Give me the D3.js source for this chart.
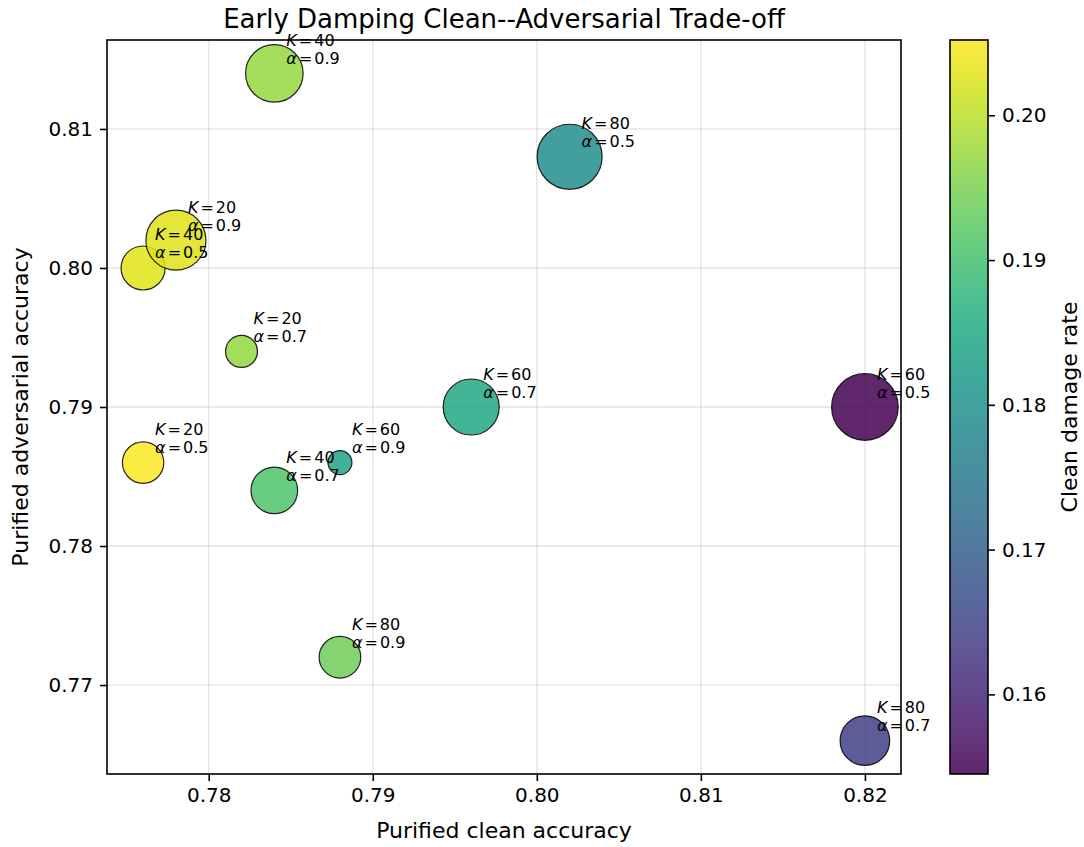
<!DOCTYPE html>
<html>
<head>
<meta charset="utf-8">
<script src="https://cdn.jsdelivr.net/npm/d3@7"></script>
<style>
  html, body { margin: 0; padding: 0; background: #fff; }
  svg { display: block; font-family: "DejaVu Sans", sans-serif; }
</style>
</head>
<body>
<svg id="chart" width="1084" height="847"></svg>
<script>
// Damping configurations (ordered by alpha, then K)
const kValues     = [20, 40, 60, 80, 20, 40, 60, 80, 20, 40, 60, 80];
const alphaValues = ["0.5", "0.5", "0.5", "0.5", "0.7", "0.7", "0.7", "0.7", "0.9", "0.9", "0.9", "0.9"];
const cleanAcc    = [0.776, 0.776, 0.820, 0.802, 0.782, 0.784, 0.796, 0.820, 0.778, 0.784, 0.788, 0.788];
const advAcc      = [0.786, 0.800, 0.790, 0.808, 0.794, 0.784, 0.790, 0.766, 0.802, 0.814, 0.786, 0.772];
const damageRate  = [0.2052, 0.2030, 0.1545, 0.1793, 0.1970, 0.1910, 0.1849, 0.1641, 0.2027, 0.1971, 0.1840, 0.1941];
// marker areas in pt^2
const markerArea  = [336, 380, 871, 830, 201, 426, 616, 483, 707, 651, 113, 340];

const xTicks    = [0.78, 0.79, 0.80, 0.81, 0.82];
const yTicks    = [0.77, 0.78, 0.79, 0.80, 0.81];
const cbarTicks = [0.16, 0.17, 0.18, 0.19, 0.20];

const titleText  = "Early Damping Clean--Adversarial Trade-off";
const xLabelText = "Purified clean accuracy";
const yLabelText = "Purified adversarial accuracy";
const cLabelText = "Clean damage rate";

const data = kValues.map((k, i) => ({
  k, alpha: alphaValues[i], x: cleanAcc[i], y: advAcc[i], c: damageRate[i], s: markerArea[i]
}));

const svg = d3.select("#chart");
const plot = { left: 107, right: 901, top: 40, bottom: 774 };
const cbar = { left: 950, right: 988, top: 40, bottom: 774 };
const FILL_ALPHA = 0.85;

function padded(ext, m) {
  const span = ext[1] - ext[0];
  return [ext[0] - span * m, ext[1] + span * m];
}

const x = d3.scaleLinear().domain(padded(d3.extent(cleanAcc), 0.05)).range([plot.left, plot.right]);
const y = d3.scaleLinear().domain(padded(d3.extent(advAcc), 0.05)).range([plot.bottom, plot.top]);
const cDomain = d3.extent(damageRate);
const color = d3.scaleSequential(d3.interpolateViridis).domain(cDomain);
const cy = d3.scaleLinear().domain(cDomain).range([cbar.bottom, cbar.top]);
// pt^2 area -> pixel radius (2 px per pt)
const r = d3.scaleSqrt().domain([0, 100]).range([0, 2 * Math.sqrt(100 / Math.PI)]);

// grid
const grid = svg.append("g").attr("stroke", "#b0b0b0").attr("stroke-opacity", 0.35).attr("stroke-width", 1.3);
grid.selectAll(".gx").data(xTicks).join("line")
  .attr("x1", d => x(d)).attr("x2", d => x(d)).attr("y1", plot.top).attr("y2", plot.bottom);
grid.selectAll(".gy").data(yTicks).join("line")
  .attr("y1", d => y(d)).attr("y2", d => y(d)).attr("x1", plot.left).attr("x2", plot.right);

// bubbles
svg.append("g").selectAll("circle").data(data).join("circle")
  .attr("cx", d => x(d.x)).attr("cy", d => y(d.y)).attr("r", d => r(d.s))
  .attr("fill", d => color(d.c)).attr("fill-opacity", FILL_ALPHA)
  .attr("stroke", "#000").attr("stroke-opacity", FILL_ALPHA).attr("stroke-width", 1.2);

// annotations
const ann = svg.append("g").attr("font-size", 16).attr("fill", "#000");
data.forEach(d => {
  const ax = x(d.x) + 12, ay = y(d.y);
  const t1 = ann.append("text").attr("x", ax).attr("y", ay - 27.5);
  t1.append("tspan").attr("font-style", "italic").text("K");
  t1.append("tspan").attr("dx", 2).text("=");
  t1.append("tspan").attr("dx", 2).text(d.k);
  const t2 = ann.append("text").attr("x", ax).attr("y", ay - 9.5);
  t2.append("tspan").attr("font-style", "italic").text("α");
  t2.append("tspan").attr("dx", 2).text("=");
  t2.append("tspan").attr("dx", 2).text(d.alpha);
});

// axes
const xAxis = d3.axisBottom(x).tickValues(xTicks).tickFormat(d3.format(".2f")).tickSizeOuter(0).tickSize(7).tickPadding(7);
const yAxis = d3.axisLeft(y).tickValues(yTicks).tickFormat(d3.format(".2f")).tickSizeOuter(0).tickSize(7).tickPadding(7);
const gx = svg.append("g").attr("transform", `translate(0,${plot.bottom})`).call(xAxis);
const gy = svg.append("g").attr("transform", `translate(${plot.left},0)`).call(yAxis);
[gx, gy].forEach(g => {
  g.select(".domain").remove();
  g.selectAll(".tick line").attr("stroke", "#000").attr("stroke-width", 1.6);
  g.selectAll(".tick text").attr("font-size", 20).attr("fill", "#000").attr("font-family", "DejaVu Sans");
});

// plot frame
svg.append("rect").attr("x", plot.left).attr("y", plot.top)
  .attr("width", plot.right - plot.left).attr("height", plot.bottom - plot.top)
  .attr("fill", "none").attr("stroke", "#000").attr("stroke-width", 1.6);

// colorbar
const defs = svg.append("defs");
const grad = defs.append("linearGradient").attr("id", "viridisGrad")
  .attr("x1", 0).attr("y1", 1).attr("x2", 0).attr("y2", 0);
d3.range(0, 1.0001, 0.02).forEach(t => {
  grad.append("stop").attr("offset", t).attr("stop-color", d3.interpolateViridis(t));
});
svg.append("rect").attr("x", cbar.left).attr("y", cbar.top)
  .attr("width", cbar.right - cbar.left).attr("height", cbar.bottom - cbar.top)
  .attr("fill", "url(#viridisGrad)").attr("fill-opacity", FILL_ALPHA);
svg.append("rect").attr("x", cbar.left).attr("y", cbar.top)
  .attr("width", cbar.right - cbar.left).attr("height", cbar.bottom - cbar.top)
  .attr("fill", "none").attr("stroke", "#000").attr("stroke-width", 1.6);
const cAxis = d3.axisRight(cy).tickValues(cbarTicks).tickFormat(d3.format(".2f")).tickSizeOuter(0).tickSize(7).tickPadding(7);
const gc = svg.append("g").attr("transform", `translate(${cbar.right},0)`).call(cAxis);
gc.select(".domain").remove();
gc.selectAll(".tick line").attr("stroke", "#000").attr("stroke-width", 1.6);
gc.selectAll(".tick text").attr("font-size", 20).attr("fill", "#000").attr("font-family", "DejaVu Sans");

// titles and labels
const midX = (plot.left + plot.right) / 2, midY = (plot.top + plot.bottom) / 2;
svg.append("text").attr("x", midX).attr("y", 28).attr("text-anchor", "middle")
  .attr("font-size", 26).text(titleText);
svg.append("text").attr("x", midX).attr("y", 838).attr("text-anchor", "middle")
  .attr("font-size", 22).text(xLabelText);
svg.append("text").attr("transform", `translate(28,${midY}) rotate(-90)`).attr("text-anchor", "middle")
  .attr("font-size", 22).text(yLabelText);
svg.append("text").attr("transform", `translate(1077,${(cbar.top + cbar.bottom) / 2}) rotate(-90)`).attr("text-anchor", "middle")
  .attr("font-size", 22).text(cLabelText);
</script>
</body>
</html>
